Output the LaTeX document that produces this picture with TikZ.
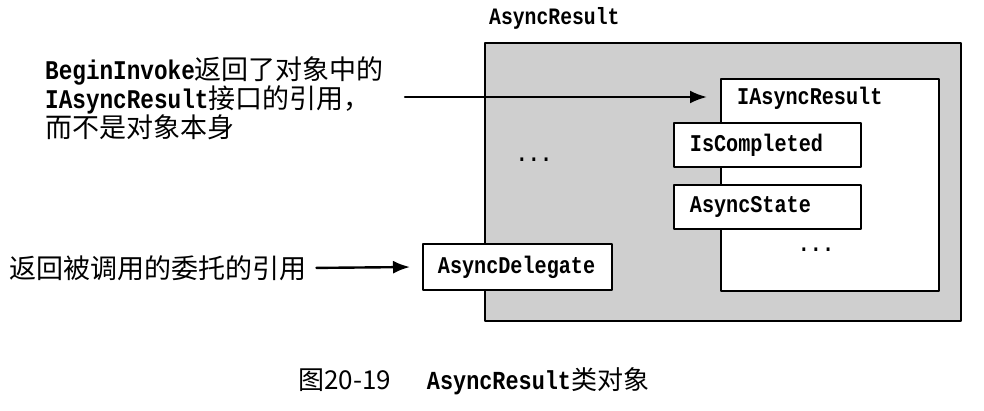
\documentclass[tikz,border=0pt]{standalone}
\usepackage{fontspec}
\usepackage{tikz}
\usetikzlibrary{arrows.meta,calc}
\newfontfamily\cjk{Noto Sans CJK SC}
\newfontfamily\codefont[FakeStretch=0.84]{Liberation Mono}
\newcommand{\code}[1]{{\codefont\bfseries #1}}

\begin{document}
\begin{tikzpicture}[x=1pt, y=-1pt, line cap=round, line join=round,
    boxline/.style={draw=black, line width=1.8pt},
    member/.style={boxline, fill=white, anchor=north west, minimum height=45pt,
        text width=155pt, inner xsep=16pt, align=left, font=\fontsize{24}{28}\selectfont},
    note/.style={anchor=west, inner sep=0pt, align=left, font=\cjk\fontsize{27}{28.5}\selectfont},
    arr/.style={-{Latex[length=17pt,width=13pt]}, line width=2.4pt}]
                \useasboundingbox (0,0) rectangle (984,410);

                % The object and its name
                \node[boxline, fill=black!19, anchor=north west, minimum width=476pt,
                    minimum height=278pt] (obj) at (484,42) {};
                \node[anchor=west, inner sep=0pt, font=\fontsize{23.5}{26}\selectfont]
                    (objname) at (489,18) {\code{AsyncResult}};
                \node[font=\fontsize{24}{28}\selectfont] (odots) at (534,160) {\code{...}};

                % The interface part
                \node[boxline, fill=white, anchor=north west, minimum width=218pt,
                    minimum height=212pt] (ibox) at (720,78) {};
                \node[anchor=west, inner sep=0pt, font=\fontsize{24}{28}\selectfont]
                    (iname) at (737,98) {\code{IAsyncResult}};
                \foreach \name/\y/\txt in {done/122/IsCompleted, state/184/AsyncState}{
                    \node[member, minimum height=44pt] (\name) at (673,\y) {\code{\txt}};
                }
                \node[font=\fontsize{24}{28}\selectfont] (idots) at (816,250) {\code{...}};

                % Delegate field
                \node[member, text width=159pt, inner xsep=15pt, minimum height=46pt]
                    (dlg) at (422,243) {\code{AsyncDelegate}};

                % Notes on the left
                \node[note] (note1) at (45,98)
                    {\code{BeginInvoke}返回了对象中的\\\code{IAsyncResult}接口的引用，\\而不是对象本身};
                \node[note] (note2) at (9,268) {返回被调用的委托的引用};
                \coordinate (a1) at (405,97);
                \draw[arr, shorten >=13pt] (a1) -- (ibox.west |- a1);
                \draw[arr, shorten <=10pt, shorten >=12pt] (note2.east) -- (dlg.west);

                % Caption
                \node[anchor=west, inner sep=0pt, font=\fontsize{26}{30}\selectfont] (caption) at (298,381)
                    {\cjk 图20-19\hspace{36pt}{\codefont\bfseries AsyncResult}类对象};

            \end{tikzpicture}
\end{document}
